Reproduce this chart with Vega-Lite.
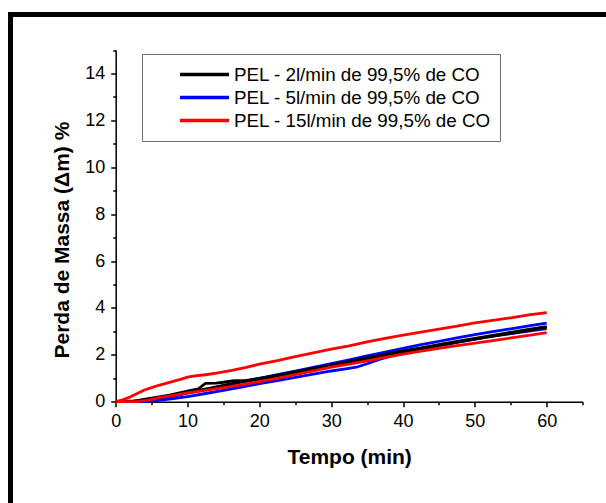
{
  "$schema": "https://vega.github.io/schema/vega-lite/v6.json",
  "autosize": "none",
  "padding": {"left": 10.5, "top": 14.5, "right": 0, "bottom": 0},
  "width": 595.5,
  "height": 488.5,
  "background": "white",
  "data": {
    "values": [
      {"c": "5", "r": "a", "t": 0, "v": 0}, {"c": "5", "r": "a", "t": 3, "v": 0}, {"c": "5", "r": "a", "t": 5, "v": 0.07}, {"c": "5", "r": "a", "t": 7.5, "v": 0.2}, {"c": "5", "r": "a", "t": 10, "v": 0.37}, {"c": "5", "r": "a", "t": 12.5, "v": 0.52}, {"c": "5", "r": "a", "t": 15, "v": 0.67}, {"c": "5", "r": "a", "t": 17.5, "v": 0.83}, {"c": "5", "r": "a", "t": 20, "v": 1.0}, {"c": "5", "r": "a", "t": 22.5, "v": 1.15}, {"c": "5", "r": "a", "t": 25, "v": 1.3}, {"c": "5", "r": "a", "t": 27.5, "v": 1.46}, {"c": "5", "r": "a", "t": 30, "v": 1.62}, {"c": "5", "r": "a", "t": 32.5, "v": 1.79}, {"c": "5", "r": "a", "t": 35, "v": 1.96}, {"c": "5", "r": "a", "t": 37.5, "v": 2.12}, {"c": "5", "r": "a", "t": 40, "v": 2.28}, {"c": "5", "r": "a", "t": 42.5, "v": 2.43}, {"c": "5", "r": "a", "t": 45, "v": 2.57}, {"c": "5", "r": "a", "t": 47.5, "v": 2.72}, {"c": "5", "r": "a", "t": 50, "v": 2.86}, {"c": "5", "r": "a", "t": 52.5, "v": 2.99}, {"c": "5", "r": "a", "t": 55, "v": 3.11}, {"c": "5", "r": "a", "t": 57.5, "v": 3.23}, {"c": "5", "r": "a", "t": 60, "v": 3.35},
      {"c": "5", "r": "b", "t": 0, "v": 0}, {"c": "5", "r": "b", "t": 4, "v": 0}, {"c": "5", "r": "b", "t": 6, "v": 0.06}, {"c": "5", "r": "b", "t": 8, "v": 0.13}, {"c": "5", "r": "b", "t": 10, "v": 0.22}, {"c": "5", "r": "b", "t": 12.5, "v": 0.35}, {"c": "5", "r": "b", "t": 15, "v": 0.48}, {"c": "5", "r": "b", "t": 17.5, "v": 0.62}, {"c": "5", "r": "b", "t": 20, "v": 0.77}, {"c": "5", "r": "b", "t": 22.5, "v": 0.9}, {"c": "5", "r": "b", "t": 25, "v": 1.04}, {"c": "5", "r": "b", "t": 27.5, "v": 1.18}, {"c": "5", "r": "b", "t": 30, "v": 1.31}, {"c": "5", "r": "b", "t": 32, "v": 1.4}, {"c": "5", "r": "b", "t": 33.5, "v": 1.47}, {"c": "5", "r": "b", "t": 35, "v": 1.62}, {"c": "5", "r": "b", "t": 36.5, "v": 1.78}, {"c": "5", "r": "b", "t": 38, "v": 1.92}, {"c": "5", "r": "b", "t": 40, "v": 2.07}, {"c": "5", "r": "b", "t": 42.5, "v": 2.22}, {"c": "5", "r": "b", "t": 45, "v": 2.38}, {"c": "5", "r": "b", "t": 47.5, "v": 2.53}, {"c": "5", "r": "b", "t": 50, "v": 2.67}, {"c": "5", "r": "b", "t": 52.5, "v": 2.8}, {"c": "5", "r": "b", "t": 55, "v": 2.9}, {"c": "5", "r": "b", "t": 57.5, "v": 3.01}, {"c": "5", "r": "b", "t": 60, "v": 3.12},
      {"c": "2", "r": "a", "t": 0, "v": 0}, {"c": "2", "r": "a", "t": 2.5, "v": 0.02}, {"c": "2", "r": "a", "t": 5, "v": 0.15}, {"c": "2", "r": "a", "t": 7.5, "v": 0.28}, {"c": "2", "r": "a", "t": 10, "v": 0.45}, {"c": "2", "r": "a", "t": 11.5, "v": 0.55}, {"c": "2", "r": "a", "t": 12.5, "v": 0.78}, {"c": "2", "r": "a", "t": 14, "v": 0.79}, {"c": "2", "r": "a", "t": 15, "v": 0.83}, {"c": "2", "r": "a", "t": 16.5, "v": 0.9}, {"c": "2", "r": "a", "t": 18, "v": 0.9}, {"c": "2", "r": "a", "t": 20, "v": 1.0}, {"c": "2", "r": "a", "t": 22.5, "v": 1.12}, {"c": "2", "r": "a", "t": 25, "v": 1.28}, {"c": "2", "r": "a", "t": 27.5, "v": 1.42}, {"c": "2", "r": "a", "t": 30, "v": 1.56}, {"c": "2", "r": "a", "t": 32.5, "v": 1.72}, {"c": "2", "r": "a", "t": 35, "v": 1.87}, {"c": "2", "r": "a", "t": 37.5, "v": 2.02}, {"c": "2", "r": "a", "t": 40, "v": 2.17}, {"c": "2", "r": "a", "t": 42.5, "v": 2.3}, {"c": "2", "r": "a", "t": 45, "v": 2.44}, {"c": "2", "r": "a", "t": 47.5, "v": 2.57}, {"c": "2", "r": "a", "t": 50, "v": 2.7}, {"c": "2", "r": "a", "t": 52.5, "v": 2.83}, {"c": "2", "r": "a", "t": 55, "v": 2.96}, {"c": "2", "r": "a", "t": 57.5, "v": 3.08}, {"c": "2", "r": "a", "t": 60, "v": 3.2},
      {"c": "2", "r": "b", "t": 0, "v": 0}, {"c": "2", "r": "b", "t": 3, "v": 0.03}, {"c": "2", "r": "b", "t": 5, "v": 0.12}, {"c": "2", "r": "b", "t": 7.5, "v": 0.25}, {"c": "2", "r": "b", "t": 10, "v": 0.42}, {"c": "2", "r": "b", "t": 12, "v": 0.52}, {"c": "2", "r": "b", "t": 13, "v": 0.57}, {"c": "2", "r": "b", "t": 15, "v": 0.7}, {"c": "2", "r": "b", "t": 17, "v": 0.82}, {"c": "2", "r": "b", "t": 20, "v": 0.96}, {"c": "2", "r": "b", "t": 25, "v": 1.24}, {"c": "2", "r": "b", "t": 30, "v": 1.52}, {"c": "2", "r": "b", "t": 35, "v": 1.83}, {"c": "2", "r": "b", "t": 40, "v": 2.13}, {"c": "2", "r": "b", "t": 45, "v": 2.4}, {"c": "2", "r": "b", "t": 50, "v": 2.67}, {"c": "2", "r": "b", "t": 55, "v": 2.92}, {"c": "2", "r": "b", "t": 60, "v": 3.17},
      {"c": "15", "r": "a", "t": 0, "v": 0}, {"c": "15", "r": "a", "t": 1, "v": 0.08}, {"c": "15", "r": "a", "t": 2, "v": 0.2}, {"c": "15", "r": "a", "t": 3, "v": 0.35}, {"c": "15", "r": "a", "t": 4, "v": 0.5}, {"c": "15", "r": "a", "t": 5, "v": 0.6}, {"c": "15", "r": "a", "t": 6, "v": 0.7}, {"c": "15", "r": "a", "t": 7.5, "v": 0.82}, {"c": "15", "r": "a", "t": 9, "v": 0.95}, {"c": "15", "r": "a", "t": 10, "v": 1.05}, {"c": "15", "r": "a", "t": 11, "v": 1.1}, {"c": "15", "r": "a", "t": 12.5, "v": 1.15}, {"c": "15", "r": "a", "t": 14, "v": 1.22}, {"c": "15", "r": "a", "t": 16, "v": 1.33}, {"c": "15", "r": "a", "t": 18, "v": 1.45}, {"c": "15", "r": "a", "t": 20, "v": 1.6}, {"c": "15", "r": "a", "t": 22.5, "v": 1.75}, {"c": "15", "r": "a", "t": 25, "v": 1.92}, {"c": "15", "r": "a", "t": 27.5, "v": 2.08}, {"c": "15", "r": "a", "t": 30, "v": 2.24}, {"c": "15", "r": "a", "t": 32.5, "v": 2.38}, {"c": "15", "r": "a", "t": 35, "v": 2.55}, {"c": "15", "r": "a", "t": 37.5, "v": 2.7}, {"c": "15", "r": "a", "t": 40, "v": 2.84}, {"c": "15", "r": "a", "t": 42.5, "v": 2.97}, {"c": "15", "r": "a", "t": 45, "v": 3.1}, {"c": "15", "r": "a", "t": 47.5, "v": 3.22}, {"c": "15", "r": "a", "t": 50, "v": 3.36}, {"c": "15", "r": "a", "t": 52.5, "v": 3.47}, {"c": "15", "r": "a", "t": 55, "v": 3.58}, {"c": "15", "r": "a", "t": 57.5, "v": 3.7}, {"c": "15", "r": "a", "t": 60, "v": 3.8},
      {"c": "15", "r": "b", "t": 0, "v": 0}, {"c": "15", "r": "b", "t": 3, "v": 0}, {"c": "15", "r": "b", "t": 4.5, "v": 0.07}, {"c": "15", "r": "b", "t": 6, "v": 0.17}, {"c": "15", "r": "b", "t": 8, "v": 0.27}, {"c": "15", "r": "b", "t": 10, "v": 0.38}, {"c": "15", "r": "b", "t": 12.5, "v": 0.48}, {"c": "15", "r": "b", "t": 15, "v": 0.6}, {"c": "15", "r": "b", "t": 17.5, "v": 0.72}, {"c": "15", "r": "b", "t": 20, "v": 0.86}, {"c": "15", "r": "b", "t": 22.5, "v": 1.0}, {"c": "15", "r": "b", "t": 25, "v": 1.15}, {"c": "15", "r": "b", "t": 27.5, "v": 1.31}, {"c": "15", "r": "b", "t": 30, "v": 1.47}, {"c": "15", "r": "b", "t": 32.5, "v": 1.6}, {"c": "15", "r": "b", "t": 35, "v": 1.74}, {"c": "15", "r": "b", "t": 37.5, "v": 1.89}, {"c": "15", "r": "b", "t": 40, "v": 2.03}, {"c": "15", "r": "b", "t": 42.5, "v": 2.16}, {"c": "15", "r": "b", "t": 45, "v": 2.28}, {"c": "15", "r": "b", "t": 47.5, "v": 2.39}, {"c": "15", "r": "b", "t": 50, "v": 2.5}, {"c": "15", "r": "b", "t": 52.5, "v": 2.61}, {"c": "15", "r": "b", "t": 55, "v": 2.72}, {"c": "15", "r": "b", "t": 57.5, "v": 2.83}, {"c": "15", "r": "b", "t": 60, "v": 2.95}
    ]
  },
  "mark": {"type": "line", "strokeWidth": 2.8, "clip": false},
  "encoding": {
    "x": {
      "field": "t", "type": "quantitative",
      "scale": {"domain": [0, 65], "range": [105.2, 572.1], "nice": false, "zero": false},
      "axis": {
        "title": "Tempo (min)",
        "values": [0, 5, 10, 15, 20, 25, 30, 35, 40, 45, 50, 55, 60, 65],
        "labelExpr": "datum.value % 10 === 0 ? datum.label : ''",
        "tickSize": {"condition": {"test": "datum.value % 10 === 0", "value": 5}, "value": 3},
        "offset": -101.3,
        "labelFlush": false,
        "labelOverlap": false,
        "labelPadding": 6,
        "titleBaseline": "alphabetic",
        "titleY": 61.6
      }
    },
    "y": {
      "field": "v", "type": "quantitative",
      "scale": {"domain": [0, 15], "range": [387.2, 35.6], "nice": false, "zero": false},
      "axis": {
        "title": "Perda de Massa (Δm) %",
        "values": [0, 1, 2, 3, 4, 5, 6, 7, 8, 9, 10, 11, 12, 13, 14, 15],
        "labelExpr": "datum.value % 2 === 0 ? datum.label : ''",
        "tickSize": {"condition": {"test": "datum.value % 2 === 0", "value": 5}, "value": 3},
        "offset": -105.2,
        "labelFlush": false,
        "labelOverlap": false,
        "labelPadding": 6,
        "titleBaseline": "alphabetic",
        "titleAngle": 270,
        "titleX": -47.4,
        "titleY": 225.1
      }
    },
    "color": {
      "field": "c", "type": "nominal",
      "scale": {"domain": ["2", "5", "15"], "range": ["#000000", "#0000ff", "#ff0000"]},
      "legend": {
        "orient": "none",
        "legendX": 131.5,
        "legendY": 39.5,
        "title": null,
        "symbolType": "stroke",
        "symbolSize": 2401,
        "symbolStrokeWidth": 3.5,
        "clipHeight": 23,
        "rowPadding": 0,
        "padding": 9,
        "symbolOffset": 27,
        "labelOffset": 3,
        "labelLimit": 500,
        "labelExpr": "'PEL - ' + datum.label + 'l/min de 99,5% de CO\u00a0\u00a0\u00a0\u00a0\u00a0\u00a0\u00a0'",
        "strokeColor": "#707070",
        "fillColor": "white"
      }
    },
    "detail": {"field": "r", "type": "nominal"}
  },
  "config": {
    "view": {"stroke": "black", "strokeWidth": 5, "strokeDash": [595.5, 1084, 488.5], "strokeCap": "square", "fill": "white"},
    "axis": {
      "grid": false,
      "domainColor": "black", "domainWidth": 1.5,
      "tickColor": "black", "tickWidth": 1.5,
      "labelFont": "Liberation Sans", "labelFontSize": 18, "labelColor": "black",
      "titleFont": "Liberation Sans", "titleFontSize": 21, "titleFontWeight": "bold", "titleColor": "black"
    },
    "legend": {
      "labelFont": "Liberation Sans", "labelFontSize": 18.8, "labelColor": "black"
    }
  }
}
